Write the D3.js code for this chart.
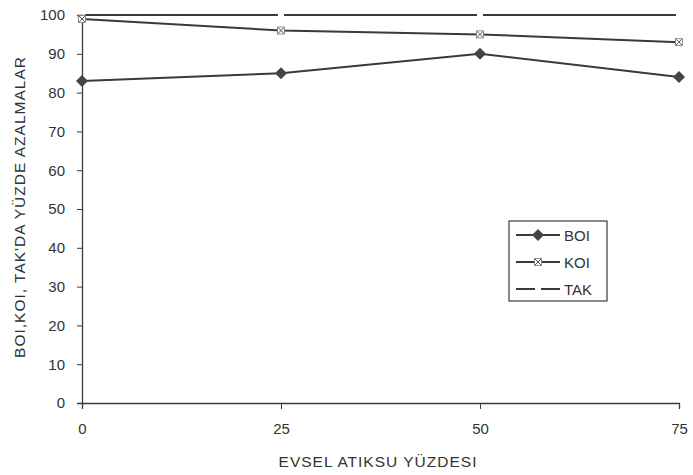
<!DOCTYPE html>
<html>
<head>
<meta charset="utf-8">
<script src="https://cdn.jsdelivr.net/npm/d3@7"></script>
<style>
  body { margin: 0; background: #fff; }
  text { font-family: "Liberation Sans", Arial, sans-serif; fill: #333; }
</style>
</head>
<body>
<svg id="chart" width="693" height="475"></svg>
<script>
// data
const xValues = [0, 25, 50, 75];
const boi = [83, 85, 90, 84];
const koi = [99, 96, 95, 93];
const tak = [100, 100, 100, 100];
const yTicks = [0, 10, 20, 30, 40, 50, 60, 70, 80, 90, 100];
const seriesNames = ['BOI', 'KOI', 'TAK'];

const ink = '#3a3a3a';
const svg = d3.select('#chart');

const x = d3.scaleLinear().domain([0, 75]).range([82, 679]);
const y = d3.scaleLinear().domain([0, 100]).range([403, 15]);

// y axis
const yAxis = svg.append('g')
    .attr('transform', 'translate(' + x(0) + ',0)')
    .call(d3.axisLeft(y).tickValues(yTicks).tickSize(5).tickPadding(12));
yAxis.select('.domain').attr('stroke', ink).attr('stroke-width', 1.3);
yAxis.selectAll('.tick line').attr('stroke', ink);
yAxis.selectAll('.tick text').style('font-size', '15px').attr('fill', '#333');

// x axis
const xAxis = svg.append('g')
    .attr('transform', 'translate(0,' + y(0) + ')')
    .call(d3.axisBottom(x).tickValues(xValues).tickSize(6).tickPadding(14));
xAxis.select('.domain').attr('stroke', ink).attr('stroke-width', 1.3);
xAxis.selectAll('.tick line').attr('stroke', ink);
xAxis.selectAll('.tick text').style('font-size', '15px').attr('fill', '#333');

// axis titles
svg.append('text')
    .attr('x', 378).attr('y', 467)
    .attr('text-anchor', 'middle')
    .style('font-size', '15.5px')
    .style('letter-spacing', '1px')
    .text('EVSEL ATIKSU YÜZDESI');

svg.append('text')
    .attr('transform', 'translate(25,207) rotate(-90)')
    .attr('text-anchor', 'middle')
    .style('font-size', '15.5px')
    .style('letter-spacing', '1px')
    .text("BOI,KOI, TAK'DA YÜZDE AZALMALAR");

const line = d3.line()
    .x((d, i) => x(xValues[i]))
    .y(d => y(d));

// TAK: long dashes broken at the data points
for (let i = 0; i < tak.length - 1; i++) {
    svg.append('line')
        .attr('x1', x(xValues[i]) + 3).attr('y1', y(tak[i]))
        .attr('x2', x(xValues[i + 1]) - 3).attr('y2', y(tak[i + 1]))
        .attr('stroke', ink).attr('stroke-width', 2);
}

// KOI
svg.append('path')
    .datum(koi)
    .attr('d', line)
    .attr('fill', 'none')
    .attr('stroke', ink)
    .attr('stroke-width', 2);

function koiMarker(g, cx, cy) {
    g.append('rect')
        .attr('x', cx - 3.5).attr('y', cy - 3.5)
        .attr('width', 7).attr('height', 7)
        .attr('fill', '#fff').attr('stroke', '#777').attr('stroke-width', 0.8);
    g.append('path')
        .attr('d', 'M' + (cx - 3) + ',' + (cy - 3) + 'L' + (cx + 3) + ',' + (cy + 3) +
            'M' + (cx + 3) + ',' + (cy - 3) + 'L' + (cx - 3) + ',' + (cy + 3))
        .attr('stroke', '#555').attr('stroke-width', 1);
}
koi.forEach((d, i) => koiMarker(svg, x(xValues[i]), y(d)));

// BOI
svg.append('path')
    .datum(boi)
    .attr('d', line)
    .attr('fill', 'none')
    .attr('stroke', ink)
    .attr('stroke-width', 2);

const diamond = d3.symbol().type(d3.symbolSquare).size(72);
svg.selectAll('.boi-pt')
    .data(boi)
    .enter()
    .append('path')
    .attr('class', 'boi-pt')
    .attr('d', diamond)
    .attr('transform', (d, i) => 'translate(' + x(xValues[i]) + ',' + y(d) + ') rotate(45)')
    .attr('fill', '#444');

// legend
const legend = svg.append('g');
legend.append('rect')
    .attr('x', 509).attr('y', 221)
    .attr('width', 98).attr('height', 80)
    .attr('fill', '#fff').attr('stroke', ink).attr('stroke-width', 1.2);

const rowY = [235, 262, 289];
seriesNames.forEach((name, i) => {
    const ry = rowY[i];
    if (name === 'TAK') {
        legend.append('line').attr('x1', 516).attr('x2', 535).attr('y1', ry).attr('y2', ry)
            .attr('stroke', ink).attr('stroke-width', 2);
        legend.append('line').attr('x1', 541).attr('x2', 560).attr('y1', ry).attr('y2', ry)
            .attr('stroke', ink).attr('stroke-width', 2);
    } else {
        legend.append('line').attr('x1', 516).attr('x2', 560).attr('y1', ry).attr('y2', ry)
            .attr('stroke', ink).attr('stroke-width', 2);
        if (name === 'BOI') {
            legend.append('path').attr('d', diamond)
                .attr('transform', 'translate(538,' + ry + ') rotate(45)')
                .attr('fill', '#444');
        } else {
            koiMarker(legend, 538, ry);
        }
    }
    legend.append('text')
        .attr('x', 564).attr('y', ry + 5.5)
        .style('font-size', '15px')
        .text(name);
});
</script>
</body>
</html>
